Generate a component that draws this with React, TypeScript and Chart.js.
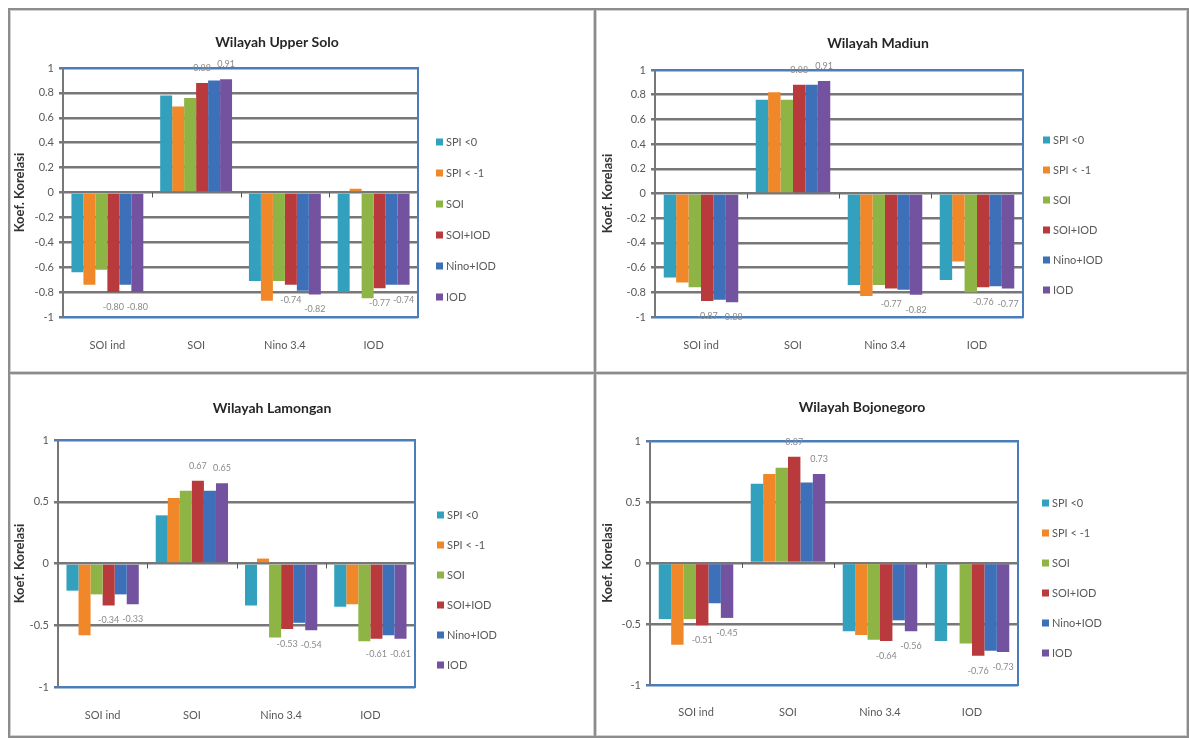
import React, { useEffect, useRef } from 'react';
import { Chart, registerables } from 'chart.js';

Chart.register(...registerables);

// ---------- data ----------
const categories = ['SOI ind', 'SOI', 'Nino 3.4', 'IOD'];
const seriesNames = ['SPI <0', 'SPI < -1', 'SOI', 'SOI+IOD', 'Nino+IOD', 'IOD'];
const seriesColors = ['#33A0BE', '#F0882A', '#8DB444', '#B93A3C', '#3D70B8', '#7353A0'];
// series that carry data labels (SOI+IOD, IOD)
const labelledSeries = [3, 5];

// rows = series (in seriesNames order), columns = categories
const upperSoloValues = [
  [-0.64, 0.78, -0.71, -0.8],
  [-0.74, 0.69, -0.87, 0.03],
  [-0.62, 0.76, -0.71, -0.85],
  [-0.8, 0.88, -0.74, -0.77],
  [-0.74, 0.9, -0.79, -0.74],
  [-0.8, 0.91, -0.82, -0.74],
];
const madiunValues = [
  [-0.68, 0.76, -0.74, -0.7],
  [-0.72, 0.82, -0.83, -0.55],
  [-0.76, 0.76, -0.74, -0.8],
  [-0.87, 0.88, -0.77, -0.76],
  [-0.86, 0.88, -0.78, -0.75],
  [-0.88, 0.91, -0.82, -0.77],
];
const lamonganValues = [
  [-0.22, 0.39, -0.34, -0.35],
  [-0.58, 0.53, 0.04, -0.33],
  [-0.25, 0.59, -0.6, -0.63],
  [-0.34, 0.67, -0.53, -0.61],
  [-0.25, 0.59, -0.48, -0.58],
  [-0.33, 0.65, -0.54, -0.61],
];
const bojonegoroValues = [
  [-0.46, 0.65, -0.56, -0.64],
  [-0.67, 0.73, -0.59, 0],
  [-0.46, 0.78, -0.63, -0.66],
  [-0.51, 0.87, -0.64, -0.76],
  [-0.33, 0.66, -0.47, -0.72],
  [-0.45, 0.73, -0.56, -0.73],
];
const panelTitles = ['Wilayah Upper Solo', 'Wilayah Madiun', 'Wilayah Lamongan', 'Wilayah Bojonegoro'];
const panelSteps = [0.2, 0.2, 0.5, 0.5];
const yAxisTitle = 'Koef. Korelasi';

// ---------- layout ----------
type Spec = {
  title: string;
  values: number[][];
  step: number;
  box: { left: number; top: number; w: number; h: number };
  area: { l: number; r: number; t: number; b: number };
  titleX: number;
  titleY: number;
  yTitleX: number;
  xLabelY: number;
  legendX: number;
  legendY: number;
  legendGap: number;
};

const specs: Spec[] = [
  {
    title: panelTitles[0], values: upperSoloValues, step: panelSteps[0],
    box: { left: 8, top: 8, w: 588, h: 366 },
    area: { l: 55, r: 410, t: 60, b: 309 },
    titleX: 269, titleY: 34, yTitleX: 12, xLabelY: 337, legendX: 428, legendY: 134, legendGap: 31,
  },
  {
    title: panelTitles[1], values: madiunValues, step: panelSteps[1],
    box: { left: 594, top: 8, w: 595, h: 366 },
    area: { l: 61, r: 429, t: 62, b: 309 },
    titleX: 284, titleY: 35, yTitleX: 14, xLabelY: 337, legendX: 449, legendY: 132, legendGap: 30,
  },
  {
    title: panelTitles[2], values: lamonganValues, step: panelSteps[2],
    box: { left: 8, top: 372, w: 588, h: 366 },
    area: { l: 50, r: 407, t: 68, b: 315 },
    titleX: 264, titleY: 36, yTitleX: 12, xLabelY: 343, legendX: 429, legendY: 143, legendGap: 30,
  },
  {
    title: panelTitles[3], values: bojonegoroValues, step: panelSteps[3],
    box: { left: 594, top: 372, w: 595, h: 366 },
    area: { l: 56, r: 424, t: 69, b: 313 },
    titleX: 268, titleY: 35, yTitleX: 14, xLabelY: 340, legendX: 448, legendY: 131, legendGap: 30,
  },
];

const FONT = 'Lato, "Liberation Sans", sans-serif';
const GRID = '#777777';
const FRAME_BLUE = '#4A7EBB';

const decorPlugin = {
  id: 'decor',
  afterDatasetsDraw(chart: any) {
    const spec: Spec = chart.options.plugins.decor.spec;
    const ctx: CanvasRenderingContext2D = chart.ctx;
    const a = chart.chartArea;
    ctx.save();
    // right border of plot area
    ctx.strokeStyle = FRAME_BLUE;
    ctx.lineWidth = 2;
    ctx.beginPath();
    ctx.moveTo(a.right, a.top - 1);
    ctx.lineTo(a.right, a.bottom + 1);
    ctx.stroke();

    // category tick marks on the zero line
    const ys = chart.scales.y;
    const xs = chart.scales.x;
    const y0 = ys.getPixelForValue(0);
    ctx.strokeStyle = '#555';
    ctx.lineWidth = 1;
    for (let i = 1; i < categories.length; i++) {
      const x = Math.round((xs.getPixelForValue(i - 1) + xs.getPixelForValue(i)) / 2) + 0.5;
      ctx.beginPath();
      ctx.moveTo(x, y0);
      ctx.lineTo(x, y0 + 5);
      ctx.stroke();
    }

    // data labels
    ctx.font = `9px ${FONT}`;
    ctx.fillStyle = '#8a8a8a';
    ctx.textAlign = 'center';
    ctx.textBaseline = 'middle';
    labelledSeries.forEach((di) => {
      const meta = chart.getDatasetMeta(di);
      const data = chart.data.datasets[di].data as number[];
      meta.data.forEach((bar: any, j: number) => {
        const v = data[j];
        const y = v < 0 ? bar.y + 15 : bar.y - 15;
        ctx.fillText(v.toFixed(2), bar.x, y);
      });
    });

    // title
    ctx.font = `bold 14px ${FONT}`;
    ctx.fillStyle = '#262626';
    ctx.textAlign = 'center';
    ctx.fillText(spec.title, spec.titleX, spec.titleY);

    // legend
    ctx.font = `11px ${FONT}`;
    ctx.textAlign = 'left';
    seriesNames.forEach((name, i) => {
      const y = spec.legendY + i * spec.legendGap;
      ctx.fillStyle = seriesColors[i];
      ctx.fillRect(spec.legendX, y - 3.5, 7, 7);
      ctx.fillStyle = '#595959';
      ctx.fillText(name, spec.legendX + 10, y);
    });
    ctx.restore();
  },
};

function Panel({ spec }: { spec: Spec }) {
  const ref = useRef<HTMLCanvasElement | null>(null);
  useEffect(() => {
    if (!ref.current) return;
    const { w, h } = spec.box;
    const a = spec.area;
    const chart = new Chart(ref.current, {
      type: 'bar',
      data: {
        labels: categories,
        datasets: seriesNames.map((name, i) => ({
          label: name,
          data: spec.values[i],
          backgroundColor: seriesColors[i],
          borderWidth: 0,
          barPercentage: 1,
          categoryPercentage: 0.81,
        })),
      },
      options: {
        responsive: false,
        animation: false,
        devicePixelRatio: 1,
        layout: { padding: { top: a.t, right: w - a.r, bottom: 0, left: 0 } },
        plugins: {
          legend: { display: false },
          title: { display: false },
          tooltip: { enabled: false },
          decor: { spec },
        } as any,
        scales: {
          x: {
            grid: { display: false, drawTicks: false },
            border: { display: false },
            ticks: {
              padding: spec.xLabelY - a.b - 5.5,
              color: '#595959',
              font: { family: FONT, size: 11, lineHeight: 1 },
            },
            afterFit: (scale: any) => {
              scale.height = h - a.b;
            },
          },
          y: {
            min: -1,
            max: 1,
            ticks: {
              stepSize: spec.step,
              padding: 5,
              color: '#595959',
              font: { family: FONT, size: 11 },
              callback: (v: any) => String(Math.round(Number(v) * 100) / 100),
            },
            grid: {
              color: (c: any) =>
                c.tick && (c.tick.value === 1 || c.tick.value === -1) ? FRAME_BLUE : GRID,
              lineWidth: 2.5,
              drawTicks: true,
              tickLength: 4,
            },
            border: { display: true, color: GRID, width: 2 },
            title: {
              display: true,
              text: yAxisTitle,
              color: '#333',
              font: { family: FONT, size: 13, weight: 'bold', lineHeight: 1 },
              padding: { top: spec.yTitleX - 6.5, bottom: 0 },
            },
            afterFit: (scale: any) => {
              scale.width = a.l;
            },
          },
        },
      },
      plugins: [decorPlugin],
    });
    return () => chart.destroy();
  }, [spec]);

  const { left, top, w, h } = spec.box;
  return (
    <div style={{ position: 'absolute', left, top, width: w, height: h }}>
      <canvas ref={ref} width={w} height={h} style={{ position: 'absolute', left: 0, top: 0, width: w, height: h }} />
      <div
        style={{
          position: 'absolute',
          left: 0,
          top: 0,
          width: w,
          height: h,
          boxSizing: 'border-box',
          border: '2px solid #8c8c8c',
          boxShadow: 'inset 0 0 0 1px #d0d0d0',
          pointerEvents: 'none',
        }}
      />
    </div>
  );
}

export default function App() {
  return (
    <div style={{ position: 'absolute', left: 0, top: 0, width: 1189, height: 738, background: '#fff', overflow: 'hidden' }}>
      {specs.map((s) => (
        <Panel key={s.title} spec={s} />
      ))}
    </div>
  );
}
